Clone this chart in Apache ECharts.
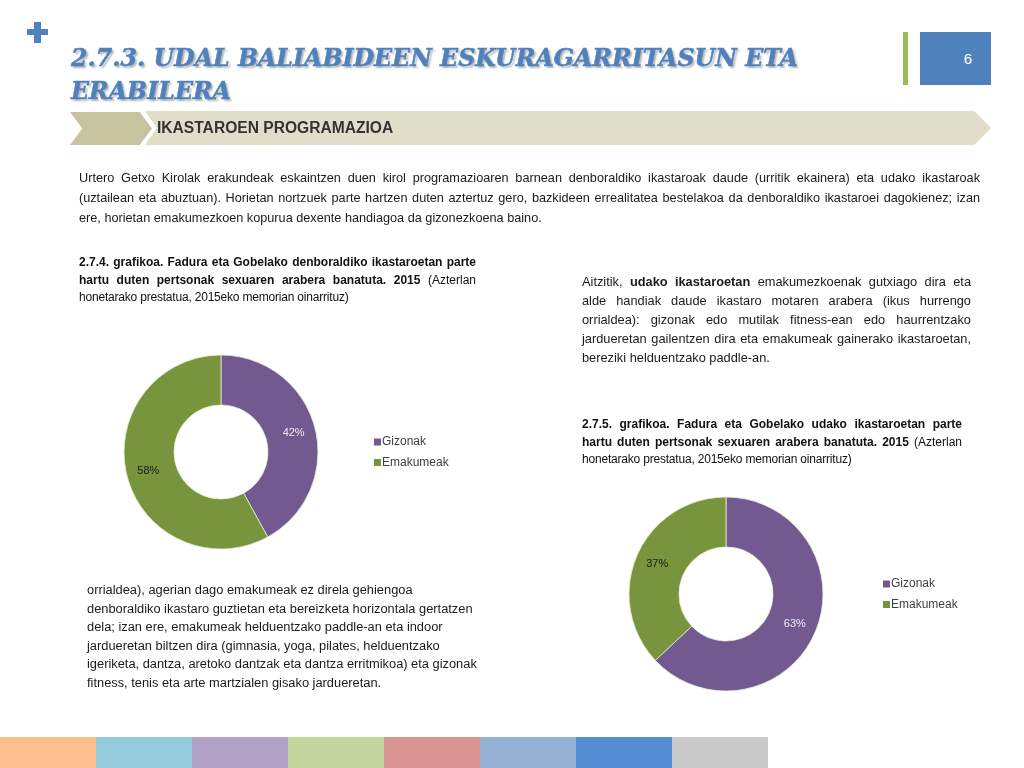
<!DOCTYPE html>
<html>
<head>
<meta charset="utf-8">
<script src="https://cdn.jsdelivr.net/npm/echarts@6/dist/echarts.min.js"></script>
<style>
  html, body { margin: 0; padding: 0; width: 1024px; height: 768px; overflow: hidden; background: #fff; font-family: "Liberation Sans", Arial, sans-serif; }
  #chart { position: absolute; left: 0; top: 0; width: 1024px; height: 768px; z-index: 1; }
  .abs { position: absolute; z-index: 2; }
  .plush { left: 27px; top: 29px; width: 21px; height: 6px; background: #4F81BD; }
  .plusv { left: 34px; top: 22px; width: 7px; height: 21px; background: #4F81BD; }
  .title { left: 71px; top: 42px; font-family: "DejaVu Serif", serif; font-weight: bold; font-style: italic; font-size: 23.7px; line-height: 33px; color: #4F81BD; -webkit-text-stroke: 0.5px #4F81BD; text-shadow: 2px 2px 2px rgba(0,0,0,0.3); white-space: nowrap; }
  .gbar { left: 903px; top: 32px; width: 5px; height: 53px; background: #9BBB59; }
  .pbox { left: 920px; top: 32px; width: 71px; height: 53px; background: #4F81BD; color: #fff; font-size: 15px; line-height: 53px; text-align: right; box-sizing: border-box; padding-right: 19px; }
  .chev1 { left: 70px; top: 112px; width: 82px; height: 33px; background: #C8C39F; clip-path: polygon(0 0, 85% 0, 100% 50%, 85% 100%, 0 100%, 15% 50%); }
  .chev2 { left: 145px; top: 111px; width: 846px; height: 34px; background: #E0DDC8; clip-path: polygon(0 0, 98% 0, 100% 50%, 98% 100%, 0 100%, 1.4% 50%); }
  .hdr { left: 157px; top: 119px; font-size: 15.6px; font-weight: bold; color: #333; line-height: 18px; white-space: nowrap; }
  .para { left: 79px; top: 168px; width: 901px; font-size: 12.7px; line-height: 20px; color: #1a1a1a; text-align: justify; }
  .cap { font-size: 12px; line-height: 17.5px; color: #111; text-align: justify; }
  .cap b { font-weight: bold; }
  .cap .thin { letter-spacing: -0.2px; }
  .cap1 { left: 79px; top: 254px; width: 397px; }
  .cap2 { left: 582px; top: 416px; width: 380px; }
  .rpara { left: 582px; top: 272px; width: 389px; font-size: 12.8px; line-height: 19px; color: #1a1a1a; text-align: justify; }
  .lpara { left: 87px; top: 581px; width: 400px; font-size: 12.85px; line-height: 18.6px; color: #1a1a1a; }
  .cbar { left: 0; top: 737px; height: 31px; }
  .cbar div { float: left; width: 96px; height: 31px; }
</style>
</head>
<body>
<div id="chart"></div>
<div class="abs plush"></div>
<div class="abs plusv"></div>
<div class="abs title">2.7.3. UDAL BALIABIDEEN ESKURAGARRITASUN ETA<br>ERABILERA</div>
<div class="abs gbar"></div>
<div class="abs pbox">6</div>
<div class="abs chev2"></div>
<div class="abs chev1"></div>
<div class="abs hdr">IKASTAROEN PROGRAMAZIOA</div>
<div class="abs para">Urtero Getxo Kirolak erakundeak eskaintzen duen kirol programazioaren barnean denboraldiko ikastaroak daude (urritik ekainera) eta udako ikastaroak (uztailean eta abuztuan). Horietan nortzuek parte hartzen duten aztertuz gero, bazkideen errealitatea bestelakoa da denboraldiko ikastaroei dagokienez; izan ere, horietan emakumezkoen kopurua dexente handiagoa da gizonezkoena baino.</div>
<div class="abs cap cap1"><b>2.7.4. grafikoa. Fadura eta Gobelako denboraldiko ikastaroetan parte hartu duten pertsonak sexuaren arabera banatuta. 2015</b> (Azterlan <span class="thin">honetarako prestatua, 2015eko memorian oinarrituz)</span></div>
<div class="abs rpara">Aitzitik, <b>udako ikastaroetan</b> emakumezkoenak gutxiago dira eta alde handiak daude ikastaro motaren arabera (ikus hurrengo orrialdea): gizonak edo mutilak fitness-ean edo haurrentzako jardueretan gailentzen dira eta emakumeak gainerako ikastaroetan, bereziki helduentzako paddle-an.</div>
<div class="abs cap cap2"><b>2.7.5. grafikoa. Fadura eta Gobelako udako ikastaroetan parte hartu duten pertsonak sexuaren arabera banatuta. 2015</b> (Azterlan <span class="thin">honetarako prestatua, 2015eko memorian oinarrituz)</span></div>
<div class="abs lpara">orrialdea), agerian dago emakumeak ez direla gehiengoa<br>denboraldiko ikastaro guztietan eta bereizketa horizontala gertatzen<br>dela; izan ere, emakumeak helduentzako paddle-an eta indoor<br>jardueretan biltzen dira (gimnasia, yoga, pilates, helduentzako<br>igeriketa, dantza, aretoko dantzak eta dantza erritmikoa) eta gizonak<br>fitness, tenis eta arte martzialen gisako jardueretan.</div>
<div class="abs cbar">
  <div style="background:#FBBF8E"></div><div style="background:#93CBDB"></div><div style="background:#B2A2C7"></div><div style="background:#C4D69C"></div><div style="background:#D99593"></div><div style="background:#95B2D6"></div><div style="background:#558DD4"></div><div style="background:#C9C9C9"></div>
</div>
<script>
  // Data
  var categories = ['Gizonak', 'Emakumeak'];
  var denboraldikoValues = [42, 58];   // 2.7.4. grafikoa
  var udakoValues = [63, 37];          // 2.7.5. grafikoa

  var sliceColors = ['#725A90', '#78953D'];
  var labelColors = ['#EDE8F5', '#1a1a1a'];

  function buildData(values) {
    return categories.map(function (name, i) {
      return {
        name: name,
        value: values[i],
        itemStyle: { color: sliceColors[i] },
        label: { color: labelColors[i] }
      };
    });
  }

  var chart = echarts.init(document.getElementById('chart'), null, { renderer: 'canvas' });
  var pieCommon = {
    type: 'pie',
    radius: [47, 97],
    startAngle: 90,
    clockwise: true,
    avoidLabelOverlap: false,
    silent: true,
    animation: false,
    itemStyle: { borderColor: '#E6EDD5', borderWidth: 0.8 },
    label: { show: true, position: 'inside', formatter: '{c}%', fontSize: 11, fontFamily: 'Liberation Sans, Arial, sans-serif' },
    labelLine: { show: false }
  };
  var legendCommon = {
    orient: 'vertical', icon: 'rect', itemWidth: 7, itemHeight: 7, itemGap: 6.5,
    data: categories.map(function (name, i) {
      return { name: name, itemStyle: { color: sliceColors[i], borderWidth: 0 } };
    }),
    selectedMode: false,
    itemStyle: { borderWidth: 0 },
    textStyle: { fontSize: 12, lineHeight: 14, color: '#404040', fontFamily: 'Liberation Sans, Arial, sans-serif', padding: [0, 0, 0, -4] }
  };
  chart.setOption({
    animation: false,
    legend: [
      Object.assign({}, legendCommon, { left: 369, top: 430 }),
      Object.assign({}, legendCommon, { left: 878, top: 572 })
    ],
    series: [
      Object.assign({}, pieCommon, { name: '2.7.4', center: [221, 452], data: buildData(denboraldikoValues) }),
      Object.assign({}, pieCommon, { name: '2.7.5', center: [726, 594], data: buildData(udakoValues) })
    ]
  });
</script>
</body>
</html>
